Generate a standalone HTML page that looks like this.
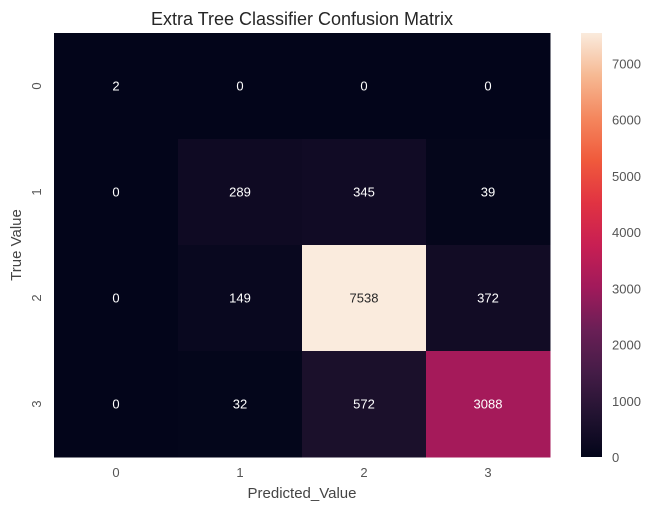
<!DOCTYPE html>
<html><head><meta charset="utf-8"><style>
body{margin:0;background:#fff;font-family:"Liberation Sans",sans-serif}
</style></head><body>
<svg id="chart" width="653" height="511" xmlns="http://www.w3.org/2000/svg">
<defs><linearGradient id="cbg" x1="0" y1="1" x2="0" y2="0"></linearGradient></defs>
<text x="302" y="25" text-anchor="middle" font-size="18" fill="#262626">Extra Tree Classifier Confusion Matrix</text>
<g id="cells"></g>
<g id="ticks"></g>
<text x="302" y="498" text-anchor="middle" font-size="15" fill="#444">Predicted_Value</text>
<text transform="translate(21,245) rotate(-90)" text-anchor="middle" font-size="15" fill="#444">True Value</text>
<rect x="581" y="33" width="21" height="424" fill="url(#cbg)"/>
<g id="cbticks"></g>
</svg>
<script>
const categories = ["0","1","2","3"];
const matrix = [
  [2,0,0,0],
  [0,289,345,39],
  [0,149,7538,372],
  [0,32,572,3088]
];
const cbTicks = [0,1000,2000,3000,4000,5000,6000,7000];
const vmin = 0, vmax = 7538;
const stops = [[0,"#03051a"],[0.1,"#221331"],[0.2,"#451c47"],[0.3,"#6a1f56"],[0.4,"#a11a5b"],[0.5,"#c81f53"],[0.6,"#e13342"],[0.7,"#f05a3c"],[0.8,"#f4875e"],[0.9,"#f6b993"],[1,"#faebdd"]];
const ns="http://www.w3.org/2000/svg";
const L=54,T=33,W=496,H=424,n=categories.length,cw=W/n,ch=H/n;
function hex(c){return [1,3,5].map(i=>parseInt(c.substr(i,2),16));}
function cmap(t){t=Math.max(0,Math.min(1,t));for(let i=1;i<stops.length;i++){if(t<=stops[i][0]){const a=stops[i-1],b=stops[i];const f=(t-a[0])/(b[0]-a[0]);const x=hex(a[1]),y=hex(b[1]);return "rgb("+x.map((v,k)=>Math.round(v+(y[k]-v)*f)).join(",")+")";}}return stops[stops.length-1][1];}
function xs(j){return L+j*cw;} function ys(i){return T+i*ch;}
function cy(v){return T+H-(v-vmin)/(vmax-vmin)*H;}
function mk(tag,attrs,parent){const e=document.createElementNS(ns,tag);for(const k in attrs)e.setAttribute(k,attrs[k]);parent.appendChild(e);return e;}
const g=document.getElementById("cells");
matrix.forEach((row,i)=>row.forEach((v,j)=>{
  const t=(v-vmin)/(vmax-vmin);
  const r=mk("rect",{x:xs(j),y:ys(i),width:cw+0.5,height:ch+0.5,fill:cmap(t)},g);
  
  
  const tx=mk("text",{x:xs(j)+cw/2,y:ys(i)+ch/2+4.5,"text-anchor":"middle","font-size":13,fill:t>0.6?"#262626":"#ffffff"},g);
  tx.textContent=v;
  
  
}));
const tg=document.getElementById("ticks");
categories.forEach((c,j)=>{
  const t=mk("text",{x:xs(j)+cw/2,y:477,"text-anchor":"middle","font-size":13,fill:"#555"},tg);
  t.textContent=c;
  
  
  const y=mk("text",{transform:"translate(41,"+(ys(j)+ch/2)+") rotate(-90)","text-anchor":"middle","font-size":13,fill:"#555"},tg);
  y.textContent=c;
  
  
});
const grad=document.getElementById("cbg");
stops.forEach(s=>mk("stop",{offset:s[0],"stop-color":s[1]},grad));
const cg=document.getElementById("cbticks");
cbTicks.forEach(v=>{
  const t=mk("text",{x:612,y:cy(v)+5,"font-size":13,fill:"#555"},cg);
  t.textContent=v;
  
  
});
</script>
</body></html>
